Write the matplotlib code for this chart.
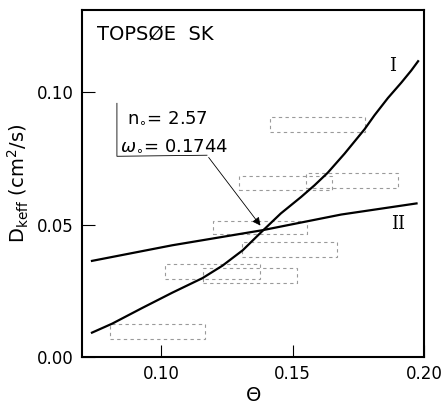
import matplotlib.pyplot as plt
from matplotlib.patches import Rectangle

# curve I and II
theta_I = [0.0736, 0.0813, 0.0927, 0.1042, 0.1157, 0.1233, 0.1310, 0.1379, 0.1455,
		   0.1532, 0.1583, 0.1634, 0.1698, 0.1774, 0.1812, 0.1863, 0.1914, 0.1952, 0.1978]
dkeff_I = [0.0092, 0.0126, 0.0185, 0.0243, 0.0298, 0.0345, 0.0403, 0.0470, 0.0542,
		   0.0604, 0.0648, 0.0696, 0.0768, 0.0860, 0.0913, 0.0978, 0.1036, 0.1082, 0.1117]
theta_II = [0.0736, 0.1042, 0.1386, 0.1685, 0.1972]
dkeff_II = [0.0363, 0.0422, 0.0479, 0.0538, 0.0580]

# dotted experimental boxes: (theta_lo, theta_hi, d_lo, d_hi)
box_theta_lo = [0.0805, 0.1015, 0.116, 0.1308, 0.1196, 0.1295, 0.155, 0.1413]
box_theta_hi = [0.1165, 0.1375, 0.1515, 0.1668, 0.1556, 0.1651, 0.190, 0.1775]
box_d_lo = [0.0069, 0.0294, 0.0278, 0.0378, 0.0463, 0.0629, 0.0638, 0.0850]
box_d_hi = [0.0125, 0.0350, 0.0338, 0.0435, 0.0513, 0.0685, 0.0694, 0.0906]

xticks = [0.10, 0.15, 0.20]
yticks = [0.00, 0.05, 0.10]

plt.rcParams['mathtext.fontset'] = 'dejavusans'

fig = plt.figure(figsize=(4.42, 4.04), dpi=100)
ax = fig.add_axes([0.1855, 0.1163, 0.7735, 0.8587])

for x0, x1, y0, y1 in zip(box_theta_lo, box_theta_hi, box_d_lo, box_d_hi):
	ax.add_patch(Rectangle((x0, y0), x1 - x0, y1 - y0, fill=False,
						   edgecolor='#9a9a9a', lw=0.8, linestyle=(0, (3, 3))))

ax.plot(theta_I, dkeff_I, color='black', lw=1.6)
ax.plot(theta_II, dkeff_II, color='black', lw=1.6)

ax.text(0.1880, 0.1100, 'I', family='DejaVu Serif', fontsize=13, ha='center', va='center')
ax.text(0.1900, 0.0502, 'II', family='DejaVu Serif', fontsize=13, ha='center', va='center')

ax.text(0.0754, 0.1219, 'TOPSØE  SK', fontsize=14, ha='left', va='center')

ax.text(0.0869, 0.0906, r'n$_{\circ}$= 2.57', fontsize=13, ha='left', va='center')
ax.text(0.0843, 0.0800, r'$\omega_{\circ}$= 0.1744', fontsize=13, ha='left', va='center')
# bracket and leader line to the intersection
ax.plot([0.0831, 0.0831, 0.1174], [0.0958, 0.0758, 0.0762], color='black', lw=0.6)
ax.annotate('', xy=(0.1384, 0.0488), xytext=(0.1174, 0.0762),
			arrowprops=dict(arrowstyle='-|>', color='black', lw=0.6, mutation_scale=12))

ax.set_xlim(0.0698, 0.20)
ax.set_ylim(0.0, 0.131)
ax.set_xticks(xticks)
ax.set_yticks(yticks)
ax.set_xticklabels(['%.2f' % v for v in xticks])
ax.set_yticklabels(['%.2f' % v for v in yticks])
ax.tick_params(direction='in', length=9, width=0.8, labelsize=12, pad=6)
for s in ax.spines.values():
	s.set_linewidth(1.5)

ax.set_xlabel(r'$\Theta$', fontsize=14, labelpad=2)
ax.set_ylabel(r'D$_{\mathrm{keff}}$ (cm$^2$/s)', fontsize=14, labelpad=4)

fig.savefig('out.png', dpi=100)
